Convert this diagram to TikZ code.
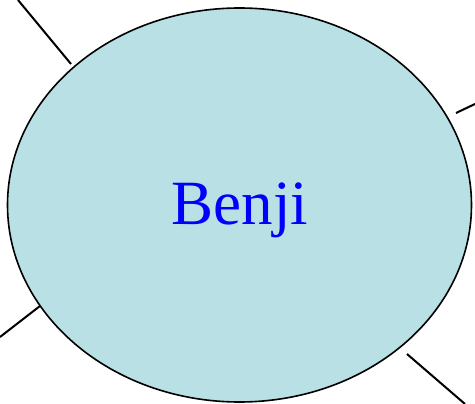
\documentclass[tikz,border=0pt]{standalone}
\usepackage{fontspec}
\setmainfont{Liberation Serif}
\usepackage{tikz}
\usetikzlibrary{shapes.geometric, positioning}
\definecolor{bubblecolor}{RGB}{185,224,228}
\definecolor{namecolor}{RGB}{0,0,255}

\begin{document}
\begin{tikzpicture}[
    x=1pt, y=-1pt,
    person/.style={draw, line width=1.6pt, ellipse, fill=bubblecolor, minimum width=464pt, minimum height=394pt, inner sep=0pt},
    namelabel/.style={text=namecolor, font=\fontsize{63}{63}\selectfont},
    link/.style={draw, line width=2pt}
]
    \useasboundingbox (0,0) rectangle (475,404);

    % Central node
    \node[person] (benji) at (239.5,205) {};
    \node[namelabel] (benjiname) at (240,210) {Benji};

    % Link ends
    \coordinate (tl) at (18,0);
    \coordinate (tlin) at (71,64);
    \coordinate (rt) at (475,104);
    \coordinate (rtin) at (456,113);
    \coordinate (bl) at (0,337);
    \coordinate (blin) at (40,306);
    \coordinate (br) at (465,404);
    \coordinate (brin) at (407,354);

    % Links
    \draw[link] (tl) -- (tlin);
    \draw[link] (rt) -- (rtin);
    \draw[link] (bl) -- (blin);
    \draw[link] (br) -- (brin);
\end{tikzpicture}
\end{document}
